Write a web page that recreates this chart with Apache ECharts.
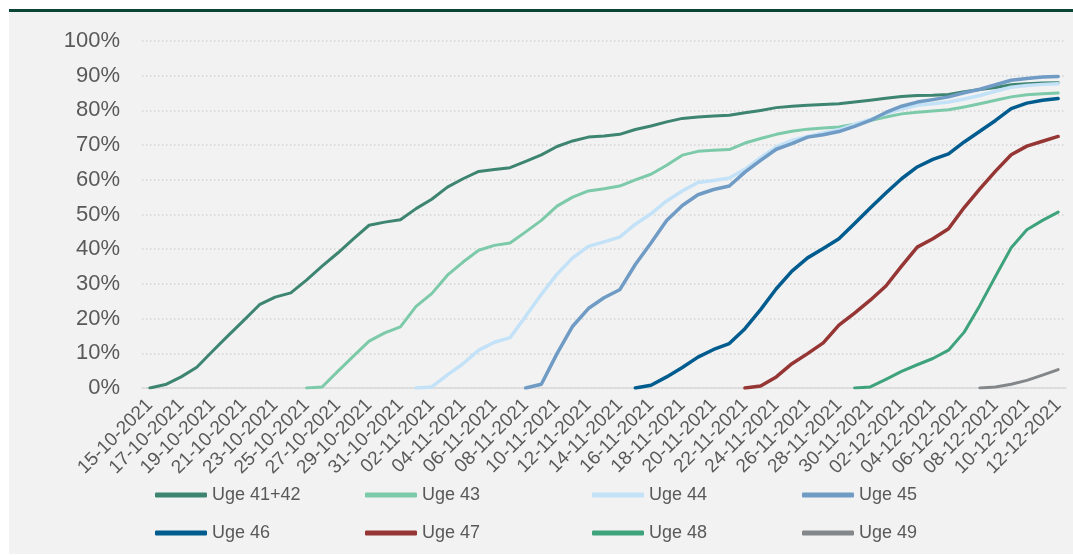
<!DOCTYPE html>
<html>
<head>
	<meta charset="utf-8">
	<title>uger</title>
	<script src="https://cdn.jsdelivr.net/npm/echarts@6/dist/echarts.min.js"></script>
	<style type="text/css">
		*{margin:0;padding:0;}
		body{background:#fff;}
		#main{width:1073px;height:555px;}
	</style>
</head>
<body>
	<div id="main"></div>
	<script type="text/javascript">
		// dage 15-10-2021 .. 12-12-2021
		var dates = [
			'15-10-2021','16-10-2021','17-10-2021','18-10-2021','19-10-2021','20-10-2021','21-10-2021',
			'22-10-2021','23-10-2021','24-10-2021','25-10-2021','26-10-2021','27-10-2021','28-10-2021',
			'29-10-2021','30-10-2021','31-10-2021','01-11-2021','02-11-2021','03-11-2021','04-11-2021',
			'05-11-2021','06-11-2021','07-11-2021','08-11-2021','09-11-2021','10-11-2021','11-11-2021',
			'12-11-2021','13-11-2021','14-11-2021','15-11-2021','16-11-2021','17-11-2021','18-11-2021',
			'19-11-2021','20-11-2021','21-11-2021','22-11-2021','23-11-2021','24-11-2021','25-11-2021',
			'26-11-2021','27-11-2021','28-11-2021','29-11-2021','30-11-2021','01-12-2021','02-12-2021',
			'03-12-2021','04-12-2021','05-12-2021','06-12-2021','07-12-2021','08-12-2021','09-12-2021',
			'10-12-2021','11-12-2021','12-12-2021'
		];

		var yTicks = [0, 10, 20, 30, 40, 50, 60, 70, 80, 90, 100];

		var names = ['Uge 41+42', 'Uge 43', 'Uge 44', 'Uge 45', 'Uge 46', 'Uge 47', 'Uge 48', 'Uge 49'];
		// index i dates[] hvor hver kurve starter
		var startIdx = [0, 10, 17, 24, 31, 38, 45, 53];

		var uge4142 = [0,1.0,3.2,6.0,10.6,15.1,19.5,24.0,26.2,27.4,31.1,35.1,38.9,43.0,46.9,47.8,48.5,51.7,54.4,57.9,
			60.3,62.4,63.0,63.5,65.3,67.2,69.6,71.2,72.3,72.6,73.1,74.5,75.5,76.7,77.7,78.1,78.4,78.6,79.3,80.0,
			80.8,81.2,81.5,81.7,81.9,82.4,82.9,83.5,84.0,84.3,84.4,84.6,85.4,86.0,86.6,87.4,87.7,87.9,88.0];
		var uge43 = [0,0.3,4.8,9.2,13.5,15.9,17.6,23.5,27.2,32.5,36.3,39.7,41.1,41.8,45.0,48.3,52.4,55.0,56.8,57.4,
			58.2,60.0,61.6,64.2,67.1,68.2,68.5,68.7,70.6,71.9,73.1,74.0,74.6,74.9,75.2,76.0,77.1,78.1,79.0,79.5,
			79.8,80.2,81.0,81.9,82.9,83.9,84.5,84.8,85.0];
		var uge44 = [0,0.3,3.8,7.0,10.9,13.2,14.5,20.7,27.0,32.8,37.5,40.8,42.1,43.5,47.2,50.2,53.9,56.8,59.2,59.8,
			60.5,63.0,66.4,69.5,71.4,72.5,73.5,74.4,76.0,77.4,79.1,80.4,81.5,81.9,82.4,83.3,84.3,85.5,86.7,87.2,
			87.5,87.7];
		var uge45 = [0,1.1,9.9,17.8,22.9,26.0,28.3,35.6,41.8,48.3,52.6,55.7,57.2,58.2,62.2,65.6,68.8,70.4,72.3,73.0,
			73.9,75.4,77.1,79.4,81.2,82.4,83.1,83.9,85.1,86.1,87.4,88.7,89.2,89.6,89.8];
		var uge46 = [0,0.8,3.2,5.9,8.9,11.1,12.8,17.1,22.6,28.6,33.7,37.5,40.2,43.0,47.4,51.9,56.2,60.3,63.7,65.9,
			67.5,70.9,74.0,77.1,80.5,82.1,82.9,83.4];
		var uge47 = [0,0.6,3.2,7.0,9.9,13.0,18.1,21.6,25.3,29.4,35.1,40.6,43.0,45.9,52.0,57.4,62.5,67.2,69.7,71.1,72.5];
		var uge48 = [0,0.3,2.5,4.8,6.7,8.5,10.9,16.1,23.8,32.2,40.4,45.6,48.3,50.7];
		var uge49 = [0,0.3,1.1,2.2,3.7,5.3];

		var allValues = [uge4142, uge43, uge44, uge45, uge46, uge47, uge48, uge49];
		var colors = ['#3d8571', '#7ccaa9', '#c3e2f8', '#6f9bc5', '#005c8e', '#963634', '#3ea37c', '#84878a'];
		var widths = [3, 3, 3.5, 3.5, 3.5, 3.5, 3, 3];

		function pad(start, vals) {
			var out = [];
			for (var i = 0; i < start; i++) out.push(null);
			return out.concat(vals);
		}

		var font = "'Liberation Sans', Arial, sans-serif";
		var txt = '#595959';

		var series = [];
		for (var k = 0; k < names.length; k++) {
			series.push({
				name: names[k],
				type: 'line',
				symbol: 'none',
				data: pad(startIdx[k], allValues[k]),
				itemStyle: {color: colors[k]},
				lineStyle: {color: colors[k], width: widths[k], cap: 'round', join: 'round'},
				emphasis: {disabled: true}
			});
		}

		// fire kolonner i forklaringen
		var legendCols = [
			{x: 150, items: ['Uge 41+42', 'Uge 46']},
			{x: 360, items: ['Uge 43', 'Uge 47']},
			{x: 587, items: ['Uge 44', 'Uge 48']},
			{x: 797, items: ['Uge 45', 'Uge 49']}
		];
		var legends = legendCols.map(function (c) {
			return {
				orient: 'vertical',
				left: c.x,
				top: 480,
				data: c.items,
				icon: 'roundRect',
				itemWidth: 52,
				itemHeight: 5,
				itemGap: 18,
				selectedMode: false,
				textStyle: {color: txt, fontSize: 18, fontFamily: font, lineHeight: 20}
			};
		});

		var myChart = echarts.init(document.getElementById('main'));
		var option = {
			backgroundColor: '#ffffff',
			animation: false,
			graphic: [
				{type: 'rect', left: 9, top: 12, shape: {width: 1064, height: 542}, style: {fill: '#f2f2f2'}, z: -10},
				{type: 'rect', left: 9, top: 9, shape: {width: 1064, height: 3}, style: {fill: '#0b4536'}, z: -10}
			],
			grid: {left: 142, right: 7, top: 41, bottom: 167},
			legend: legends,
			xAxis: {
				type: 'category',
				data: dates,
				boundaryGap: true,
				axisLine: {show: true, lineStyle: {color: '#d9d9d9', width: 1.5}},
				axisTick: {show: false},
				axisLabel: {
					interval: 1,
					rotate: 45,
					margin: 14,
					color: txt,
					fontSize: 19,
					fontFamily: font
				},
				splitLine: {show: false}
			},
			yAxis: {
				type: 'value',
				min: yTicks[0],
				max: yTicks[yTicks.length - 1],
				interval: 10,
				axisLine: {show: false},
				axisTick: {show: false},
				axisLabel: {
					formatter: '{value}%',
					margin: 22,
					color: txt,
					fontSize: 22,
					fontFamily: font
				},
				splitLine: {lineStyle: {color: '#d4d4d4', width: 1.5, type: [1.5, 2.5]}}
			},
			series: series
		};
		myChart.setOption(option);
	</script>
</body>
</html>
